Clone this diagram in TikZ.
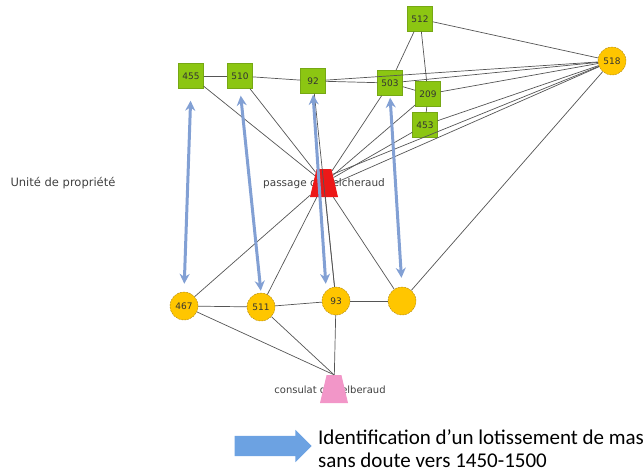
\documentclass[tikz,border=0pt]{standalone}
\usepackage{fontspec}
\setmainfont{Carlito}
\newfontfamily\lblfont{DejaVu Sans}
\usepackage{tikz}
\usepackage{xcolor}
\usetikzlibrary{shapes,arrows.meta,positioning}
\definecolor{lotcolor}{RGB}{140,198,18}
\definecolor{lotborder}{RGB}{118,168,20}
\definecolor{parcelcolor}{RGB}{255,198,0}
\definecolor{parcelborder}{RGB}{170,130,20}
\definecolor{passagecolor}{RGB}{236,24,24}
\definecolor{consulatcolor}{RGB}{242,150,200}
\definecolor{linkcolor}{RGB}{130,160,212}
\definecolor{legendcolor}{RGB}{108,162,226}
\definecolor{edgecolor}{RGB}{85,85,85}

\begin{document}
\begin{tikzpicture}[
    x=1pt, y=-1pt,
    every node/.style={font=\lblfont\fontsize{9}{10}\selectfont},
    lot/.style={rectangle, fill=lotcolor, draw=lotborder, minimum size=25pt, inner sep=0pt, text=black!80},
    parcel/.style={circle, fill=parcelcolor, draw=parcelborder, dash pattern=on 2pt off 1pt, minimum size=28pt, inner sep=0pt, text=black!80},
    street/.style={trapezium, trapezium left angle=66, trapezium right angle=66, trapezium stretches=true, minimum width=28pt, minimum height=28pt, inner sep=1pt},
    tag/.style={font=\lblfont\fontsize{10.5}{12}\selectfont, text=black!75, inner sep=0pt},
    edge/.style={draw=edgecolor, line width=0.7pt},
    link/.style={{Stealth[length=10pt, width=10pt]}-{Stealth[length=10pt, width=10pt]}, draw=linkcolor, line width=3pt}
]
\clip (0,0) rectangle (644,471);

% Unites de propriete (top row)
\node[lot] (s455) at (191,76) {455};
\node[lot] (s510) at (240,76) {510};
\node[lot] (s92) at (313,81) {92};
\node[lot] (s503) at (390,83) {503};
\node[lot] (s512) at (420,19) {512};
\node[lot] (s209) at (428,94) {209};
\node[lot] (s453) at (425,125) {453};
\node[parcel] (c518) at (612,61) {518};

% Lots (bottom row)
\node[parcel] (c467) at (184,306) {467};
\node[parcel] (c511) at (261,307) {511};
\node[parcel] (c93) at (336,301) {93};
\node[parcel] (cblank) at (402,301) {};

% Streets, label under the shape
\node[tag] (passlabel) at (324,184) {passage de Pelcheraud};
\node[street, fill=passagecolor] (pass) at (324,183) {};
\node[tag, font=\lblfont\fontsize{10}{12}\selectfont] (conslabel) at (330,390) {consulat de Pelberaud};
\node[street, fill=consulatcolor] (cons) at (334,389) {};

\node[anchor=west, font=\lblfont\fontsize{11.5}{13}\selectfont, text=black!75] (unite) at (7,183) {Unité de propriété};

% Links between units
\draw[edge] (s455) -- (s510);
\draw[edge] (s510) -- (s92);
\draw[edge] (s92) -- (s503);
\draw[edge] (s92) -- (c518);
\draw[edge] (s503) -- (c518);
\draw[edge] (s503) -- (s512);
\draw[edge] (s503) -- (s209);
\draw[edge] (s512) -- (s209);
\draw[edge] (s512) -- (c518);
\draw[edge] (s209) -- (s453);
\draw[edge] (s209) -- (c518);
\draw[edge] (s453) -- (c518);
\draw[edge] (s92) -- (c93);
% Links to the passage
\draw[edge] (s455) -- (pass);
\draw[edge] (s510) -- (pass);
\draw[edge] (s503) -- (pass);
\draw[edge] (s209) -- (pass);
\draw[edge] (s453) -- (pass);
\draw[edge] (pass.north east) -- (c518);
\draw[edge] (pass.east) -- (c518);
\draw[edge] (pass) -- (c467);
\draw[edge] (pass) -- (c511);
\draw[edge] (pass) -- (c93);
\draw[edge] (pass) -- (cblank);
\draw[edge] (c518) -- (cblank);
% Bottom row and consulat
\draw[edge] (c467) -- (c511);
\draw[edge] (c511) -- (c93);
\draw[edge] (c93) -- (cblank);
\draw[edge] (c467) -- (cons.north);
\draw[edge] (c511) -- (cons.north);
\draw[edge] (c93) -- (cons);

% Identification arrows
\draw[link, shorten <=12pt, shorten >=8pt] (s455.south) -- (c467.north);
\draw[link, shorten <=7pt, shorten >=2pt] (s510.south) -- (c511.north);
\draw[link, shorten <=1pt, shorten >=3pt] (s92.south) -- ([xshift=-10pt]c93.north);
\draw[link, shorten <=2pt, shorten >=9pt] (s503.south) -- (cblank.north);

% Legend
\node[single arrow, fill=legendcolor, minimum height=77pt, minimum width=31pt, single arrow head extend=6pt, inner xsep=0pt, inner ysep=10pt] (legarrow) at (268,446) {};
\node[anchor=north west, font=\fontsize{21}{23}\selectfont, align=left, inner sep=0pt] (legtext) at (318,429) {Identification d’un lotissement de mas\\sans doute vers 1450-1500};
\end{tikzpicture}
\end{document}
